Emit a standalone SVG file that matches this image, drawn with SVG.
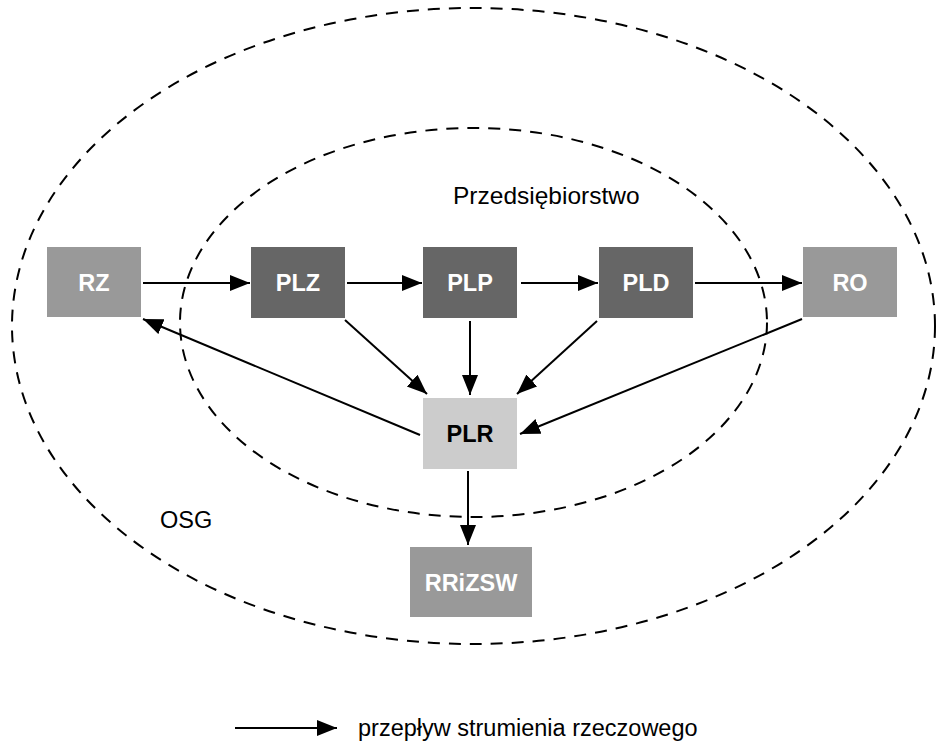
<svg xmlns="http://www.w3.org/2000/svg" width="936" height="742" viewBox="0 0 936 742">
<style>
.bg{fill:#ffffff}
.ell{fill:none;stroke:#000;stroke-width:2;stroke-dasharray:12 9}
.mid{fill:#999999}
.dark{fill:#666666}
.light{fill:#cccccc}
.lbl{font-family:"Liberation Sans",Arial,sans-serif;font-weight:bold;font-size:23.5px;fill:#ffffff;text-anchor:middle}
.lblk{font-family:"Liberation Sans",Arial,sans-serif;font-weight:bold;font-size:23.5px;fill:#000000;text-anchor:middle}
.txt{font-family:"Liberation Sans",Arial,sans-serif;font-size:23.5px;fill:#000}
.conn line{stroke:#000;stroke-width:2;marker-end:url(#ah)}
</style>
<defs>
<marker id="ah" markerUnits="userSpaceOnUse" markerWidth="21" markerHeight="17" refX="20" refY="8" orient="auto">
<path d="M0,0 L20,8 L0,16 z" fill="#000"/>
</marker>
</defs>
<rect class="bg" x="0" y="0" width="936" height="742"/>
<g id="osg">
<ellipse class="ell" cx="473.5" cy="326" rx="461.5" ry="318"/>
<text class="txt" x="160" y="528">OSG</text>
</g>
<g id="przedsiebiorstwo">
<ellipse class="ell" cx="473.5" cy="322.5" rx="293.5" ry="194.5"/>
<text class="txt" x="453" y="204" style="font-size:24.5px">Przedsiębiorstwo</text>
</g>
<g class="conn" id="connectors">
<line x1="143" y1="283" x2="250" y2="283"/>
<line x1="347" y1="283" x2="422" y2="283"/>
<line x1="521" y1="283" x2="598" y2="283"/>
<line x1="695" y1="283" x2="802" y2="283"/>
<line x1="345" y1="320" x2="427" y2="394"/>
<line x1="470" y1="321" x2="470" y2="395"/>
<line x1="597" y1="321" x2="517" y2="394"/>
<line x1="802" y1="319" x2="520" y2="434"/>
<line x1="420" y1="435" x2="143" y2="319"/>
<line x1="468" y1="471" x2="468" y2="545"/>
</g>
<g id="RZ"><rect class="mid" x="47" y="247" width="94" height="70"/><text class="lbl" x="94" y="291">RZ</text></g>
<g id="PLZ"><rect class="dark" x="251" y="247" width="94" height="71"/><text class="lbl" x="298" y="291">PLZ</text></g>
<g id="PLP"><rect class="dark" x="423" y="247" width="94" height="71"/><text class="lbl" x="470" y="291">PLP</text></g>
<g id="PLD"><rect class="dark" x="599" y="247" width="94" height="71"/><text class="lbl" x="646" y="291">PLD</text></g>
<g id="RO"><rect class="mid" x="803" y="247" width="94" height="70"/><text class="lbl" x="850" y="291">RO</text></g>
<g id="PLR"><rect class="light" x="423" y="398" width="94" height="71"/><text class="lblk" x="470" y="442">PLR</text></g>
<g id="RRiZSW"><rect class="mid" x="410" y="547" width="122" height="70"/><text class="lbl" x="471" y="591">RRiZSW</text></g>
<g id="legend">
<line x1="235" y1="728" x2="337" y2="728" stroke="#000" stroke-width="2" marker-end="url(#ah)"/>
<text class="txt" x="358" y="736">przepływ strumienia rzeczowego</text>
</g>
</svg>
